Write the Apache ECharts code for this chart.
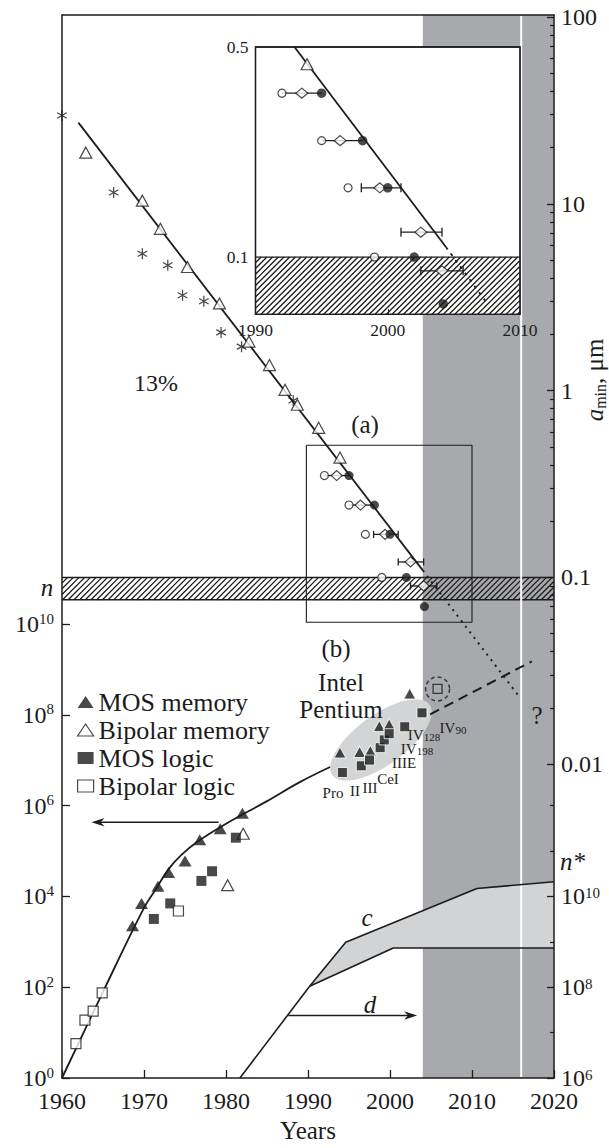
<!DOCTYPE html>
<html>
<head>
<meta charset="utf-8">
<title>Transistor count and minimum feature size</title>
<script src="https://cdn.jsdelivr.net/npm/echarts@6.0.0/dist/echarts.min.js"></script>
<style>
html,body{margin:0;padding:0;background:#fff;}
#chart{width:609px;height:1148px;}
</style>
</head>
<body>
<div id="chart"></div>
<script>
// ---------- Minimum feature size a_min (μm) ----------
const asteriskPts = [[1960,29.7],[1966.3,11.5],[1969.8,5.4],[1972.9,4.69],[1974.7,3.24],[1977.3,3.01],[1979.4,2.05],[1981.9,1.72],[1988.2,0.885]];
const openTriTop = [[1962.9,18.8],[1969.8,10.4],[1972.0,7.35],[1975.3,4.59],[1979.2,2.93],[1982.8,1.83],[1985.3,1.37],[1987.2,1.01],[1988.7,0.84],[1991.3,0.632],[1993.9,0.438]];
const openCircles = [[1992.0,0.351],[1995.0,0.244],[1997.0,0.170],[1999.0,0.100]];
const diamonds = [[1993.5,0.351],[1996.4,0.244],[1999.4,0.170],[2002.5,0.121],[2004.1,0.090]];
const filledCircles = [[1995.0,0.351],[1998.1,0.244],[2000.0,0.170],[2002.0,0.100],[2004.2,0.0698]];
// [a_min, first year, last year]
const diamondRanges = [[0.170,1998.0,2001.0],[0.121,2001.0,2004.1],[0.090,2002.5,2005.7]];
const rowLinks = [[0.351,1992.0,1995.0],[0.244,1995.0,1998.1]];
const trendSolid = [[1962,27.2],[2004,0.109]];
const trendDotted = [[2004,0.109],[2015.6,0.0235]];
const insetSolid = [[1992.95,0.5],[2004.4,0.108]];
const insetDotted = [[2004.4,0.108],[2007.5,0.0703]];
const limitBand = [0.076, 0.1];          // shaded "n" band, μm
const frameB = [[1989.8,0.51],[2010,0.51],[2010,0.0575],[1989.8,0.0575],[1989.8,0.51]];

// ---------- Transistors per chip ----------
const mosMemory = [[1968.6,2270],[1969.7,7030],[1971.7,16800],[1973.0,33700],[1975.0,60400],[1976.8,178000],[1979.3,310000],[1982.0,681000]];
const bipolarMemory = [[1980.2,17700],[1982.1,240000]];
const mosLogic = [[1971.2,3190],[1973.2,7030],[1977.0,22000],[1978.3,35900],[1981.2,197000]];
const bipolarLogic = [[1961.7,5.7],[1962.8,18.8],[1963.8,29.6],[1964.9,75],[1974.2,4780]];
const pentiumMemory = [[1993.9,1.48e7],[1996.3,1.53e7],[1997.6,1.61e7],[1998.7,5.69e7],[1999.9,6.19e7],[2002.4,2.96e8]];
const pentiumLogic = [[1994.2,5.38e6],[1996.5,7.55e6],[1997.5,1.01e7],[1998.8,1.90e7],[1999.3,2.81e7],[1999.9,3.85e7],[2001.8,5.48e7],[2003.9,1.11e8]];
const pentiumNext = [[2005.8,3.73e8]];
const countTrend = [[1960,1],[1965,79],[1970,5600],[1971.5,15000],[1973,40000],[1974.5,80000],[1976.5,160000],[1980,400000],[1985,1.26e6],[1989,3.3e6],[1992.7,7.1e6]];
const countProjection = [[2004.9,1.03e8],[2017.3,1.51e9]];
const pentiumCloudCenter = [1998.9, 2.8e7];
const leftArrow = [[1979.1,4.3e5],[1963.6,4.3e5]];

// ---------- n* (right lower scale) ----------
const nRise = [[1981.7,1e6],[1990.2,1.05e8]];
const nUpper = [[1990.2,1.05e8],[1994.6,9.8e8],[2010.6,1.5e10],[2020,2.1e10]];
const nLower = [[1990.2,1.05e8],[2000.4,7.3e8],[2020,7.3e8]];
const arrowD = [[1987.6,2.38e7],[2003.3,2.38e7]];

const shadedYears = [2004, 2020];
const markerYear = 2016;

// ---------- tick labels ----------
const countTicks = [1e0,1e2,1e4,1e6,1e8,1e10];
const aMinTicks = [100,10,1,0.1,0.01];
const nStarTicks = [1e6,1e8,1e10];
const nStarMinor = [1e7,1e9,1e11,1e12];
const insetTicks = [0.5,0.1];
const insetRange = [0.0645,0.5];

// ---------- helpers ----------
const INK = '#1c1c1c';
const FONT = 'Liberation Serif';
const L10 = Math.log10;
const lg = arr => arr.map(p => [p[0], L10(p[1])]);
const yearLabel = v => String(Math.round(v));

const aMinMinor = [];
for (let e = -2; e <= 1; e++) for (let k = 2; k <= 9; k++) aMinMinor.push(L10(k * Math.pow(10, e)));

function asteriskPath() {
  const L = 10, w = 1.15;
  let d = '';
  [90, 30, 150].forEach(deg => {
    const a = deg * Math.PI / 180, ux = Math.cos(a), uy = Math.sin(a), nx = -uy * w, ny = ux * w;
    const p = [[-L*ux+nx, -L*uy+ny],[L*ux+nx, L*uy+ny],[L*ux-nx, L*uy-ny],[-L*ux-nx, -L*uy-ny]];
    d += 'M' + p.map(q => (q[0]+10).toFixed(3) + ',' + (q[1]+10).toFixed(3)).join('L') + 'Z';
  });
  return 'path://' + d;
}

function hatchLines(x0, y0, x1, y1, step) {
  const kids = [];
  for (let c = x0 + y0; c <= x1 + y1 + step; c += step) {
    const xa = Math.max(x0, c - y1), xb = Math.min(x1, c - y0);
    if (xb <= xa) continue;
    kids.push({type:'line', shape:{x1:xa, y1:c-xa, x2:xb, y2:c-xb}, style:{stroke:INK, lineWidth:1.3}});
  }
  return kids;
}

function arrowShape(a, b) {
  const dx = b[0]-a[0], dy = b[1]-a[1], len = Math.hypot(dx, dy), ux = dx/len, uy = dy/len;
  const hl = 13, hw = 4.2, notch = 9;
  const bx = b[0]-ux*hl, by = b[1]-uy*hl;
  return {type:'group', children:[
    {type:'line', shape:{x1:a[0], y1:a[1], x2:b[0]-ux*notch, y2:b[1]-uy*notch}, style:{stroke:INK, lineWidth:1.5}},
    {type:'polygon', shape:{points:[[b[0],b[1]],[bx-uy*hw, by+ux*hw],[b[0]-ux*notch, b[1]-uy*notch],[bx+uy*hw, by-ux*hw]]}, style:{fill:INK}}
  ]};
}

function rangeSeries(rows, xi, yi, z, cap) {
  return {type:'custom', xAxisIndex:xi, yAxisIndex:yi, z, silent:true, clip:true,
    data: rows.map(r => [r[1], r[2], L10(r[0])]), encode:{x:[0,1], y:2},
    renderItem(params, api) {
      const y = api.value(2);
      const a = api.coord([api.value(0), y]), b = api.coord([api.value(1), y]);
      const st = {stroke:INK, lineWidth:1.3};
      const kids = [{type:'line', shape:{x1:a[0], y1:a[1], x2:b[0], y2:b[1]}, style:st}];
      if (cap > 0) {
        kids.push({type:'line', shape:{x1:a[0], y1:a[1]-cap, x2:a[0], y2:a[1]+cap}, style:st});
        kids.push({type:'line', shape:{x1:b[0], y1:b[1]-cap, x2:b[0], y2:b[1]+cap}, style:st});
      }
      return {type:'group', children:kids};
    }};
}

function lineSeries(data, xi, yi, z, style, smooth) {
  return {type:'line', xAxisIndex:xi, yAxisIndex:yi, z, silent:true, data:lg(data), symbol:'none',
    smooth: smooth || false, lineStyle: Object.assign({color:INK, width:1.8}, style)};
}

function scatter(name, data, xi, yi, z, symbol, size, itemStyle) {
  return {type:'scatter', name, xAxisIndex:xi, yAxisIndex:yi, z, silent:true, data:lg(data),
    symbol, symbolSize:size, symbolKeepAspect:true, itemStyle};
}

const solid = {color:INK};
const hollow = {color:'#fff', borderColor:INK, borderWidth:1.2};

function txt(x, y, text, opt) {
  return {type:'text', x, y, z:100, silent:true,
    style: Object.assign({text, fill:INK, fontFamily:FONT, fontSize:25, align:'center', verticalAlign:'middle'}, opt || {})};
}
const subRich = {s:{fontSize:11, fontFamily:FONT, fill:INK, verticalAlign:'bottom', lineHeight:10}};
function subTxt(x, y, text) {
  return txt(x, y, text, {fontSize:15, lineHeight:14, rich:subRich});
}

const aLabel = v => { const t = aMinTicks.find(t => Math.abs(L10(t) - v) < 1e-6); return t === undefined ? '' : String(t); };
const powLabel = v => '10{s|' + Math.round(v) + '}';
const supRich = {s:{fontSize:15, fontFamily:FONT, color:INK, verticalAlign:'top', lineHeight:15}};
const axisLineStyle = {color:INK, width:1.5};

const option = {
  animation: false,
  backgroundColor: '#fff',
  textStyle: {fontFamily: FONT},
  grid: [
    {left:62, top:15, width:492, height:1069},
    {left:255.5, top:47, width:264.5, height:267.3}
  ],
  legend: {
    orient:'vertical', left:72, top:684, itemWidth:16, itemHeight:12, itemGap:2, selectedMode:false,
    textStyle:{fontFamily:FONT, fontSize:26, lineHeight:26, color:INK},
    data:[
      {name:'MOS memory', icon:'triangle', itemStyle:{color:INK}},
      {name:'Bipolar memory', icon:'triangle', itemStyle:{color:'#fff', borderColor:INK, borderWidth:1.2}},
      {name:'MOS logic', icon:'rect', itemStyle:{color:INK}},
      {name:'Bipolar logic', icon:'rect', itemStyle:{color:'#fff', borderColor:INK, borderWidth:1.2}}
    ]
  },
  xAxis: [
    {gridIndex:0, type:'value', min:1960, max:2020, interval:10, position:'bottom', z:10,
      axisLine:{onZero:false, lineStyle:axisLineStyle}, axisTick:{inside:true, length:8, lineStyle:{color:INK, width:1.3}},
      axisLabel:{fontFamily:FONT, fontSize:24, color:INK, margin:11, formatter:yearLabel}, splitLine:{show:false},
      name:'Years', nameLocation:'middle', nameGap:40, nameTextStyle:{fontFamily:FONT, fontSize:25, color:INK}},
    {gridIndex:0, type:'value', min:1960, max:2020, position:'top', z:10,
      axisLine:{onZero:false, lineStyle:axisLineStyle}, axisTick:{show:false}, axisLabel:{show:false}, splitLine:{show:false}},
    {gridIndex:1, type:'value', min:1990, max:2010, interval:10, position:'bottom', z:20,
      axisLine:{show:false, onZero:false}, axisTick:{inside:true, length:5, customValues:[2000], lineStyle:{color:INK}},
      axisLabel:{fontFamily:FONT, fontSize:17.5, color:INK, margin:7, formatter:yearLabel}, splitLine:{show:false}}
  ],
  yAxis: [
    // 0: transistors per chip (log10)
    {gridIndex:0, type:'value', min:0, max:23.42, position:'left', z:10,
      axisLine:{show:true, onZero:false, lineStyle:axisLineStyle},
      axisTick:{inside:true, length:8, customValues:countTicks.map(L10), lineStyle:{color:INK, width:1.3}},
      axisLabel:{customValues:countTicks.map(L10), formatter:powLabel, fontFamily:FONT, fontSize:24, lineHeight:26, color:INK, margin:8, rich:supRich},
      splitLine:{show:false}},
    // 1: a_min, μm (log10)
    {gridIndex:0, type:'value', min:-3.68, max:2.011, position:'right', z:10,
      axisLine:{show:true, onZero:false, lineStyle:axisLineStyle},
      axisTick:{inside:true, length:7, customValues:aMinTicks.map(L10), lineStyle:{color:INK, width:1.3}},
      axisLabel:{customValues:aMinTicks.map(L10), formatter:aLabel, fontFamily:FONT, fontSize:24, color:INK, margin:7},
      splitLine:{show:false}},
    // 2: a_min minor ticks
    {gridIndex:0, type:'value', min:-3.68, max:2.011, position:'right', z:10,
      axisLine:{show:false, onZero:false}, axisTick:{inside:true, length:4, customValues:aMinMinor, lineStyle:{color:INK, width:1.2}},
      axisLabel:{show:false}, splitLine:{show:false}},
    // 3: n* (log10)
    {gridIndex:0, type:'value', min:6, max:29.42, position:'right', z:10,
      axisLine:{show:false, onZero:false},
      axisTick:{inside:true, length:7, customValues:nStarTicks.map(L10), lineStyle:{color:INK, width:1.3}},
      axisLabel:{customValues:nStarTicks.map(L10), formatter:powLabel, fontFamily:FONT, fontSize:24, lineHeight:22, color:INK, margin:7, rich:supRich},
      splitLine:{show:false}},
    // 4: n* minor ticks
    {gridIndex:0, type:'value', min:6, max:29.42, position:'right', z:10,
      axisLine:{show:false, onZero:false}, axisTick:{inside:true, length:4, customValues:nStarMinor.map(L10), lineStyle:{color:INK, width:1.2}},
      axisLabel:{show:false}, splitLine:{show:false}},
    // 5: inset a_min
    {gridIndex:1, type:'value', min:L10(insetRange[0]), max:L10(insetRange[1]), position:'left', z:20,
      axisLine:{show:false, onZero:false}, axisTick:{show:false},
      axisLabel:{customValues:insetTicks.map(L10), formatter:v => { const t = insetTicks.find(t => Math.abs(L10(t)-v) < 1e-6); return t === undefined ? '' : String(t); },
        fontFamily:FONT, fontSize:17.5, color:INK, margin:7},
      splitLine:{show:false}}
  ],
  series: [
    // shaded period
    {type:'custom', xAxisIndex:0, yAxisIndex:0, z:1, silent:true, data:[shadedYears], encode:{x:[0,1]},
      renderItem(params, api) {
        const cs = params.coordSys;
        const x0 = api.coord([api.value(0), 0])[0], x1 = api.coord([api.value(1), 0])[0];
        return {type:'rect', shape:{x:x0, y:cs.y, width:x1-x0, height:cs.height}, style:{fill:'#a8a9ac'}};
      }},
    // Pentium cloud
    {type:'custom', xAxisIndex:0, yAxisIndex:0, z:2, silent:true, data:[[pentiumCloudCenter[0], L10(pentiumCloudCenter[1])]],
      renderItem(params, api) {
        const c = api.coord([api.value(0), api.value(1)]);
        const a = 60, b = 25, th = 36 * Math.PI / 180, pts = [];
        for (let i = 0; i < 90; i++) {
          const t = i / 90 * 2 * Math.PI, ex = a * Math.cos(t), ey = b * Math.sin(t);
          pts.push([c[0] + ex*Math.cos(th) + ey*Math.sin(th), c[1] - ex*Math.sin(th) + ey*Math.cos(th)]);
        }
        return {type:'polygon', shape:{points:pts}, style:{fill:'#d3d4d6'}};
      }},
    // n* band fill
    {type:'custom', xAxisIndex:0, yAxisIndex:3, z:2, silent:true, data:[[0,0]],
      renderItem(params, api) {
        const pts = lg(nUpper).map(p => api.coord(p)).concat(lg(nLower).slice(1).reverse().map(p => api.coord(p)));
        return {type:'polygon', shape:{points:pts}, style:{fill:'#d2d3d5'}};
      }},
    // limiting size band (hatched)
    {type:'custom', xAxisIndex:0, yAxisIndex:1, z:3, silent:true, data:[[L10(limitBand[0]), L10(limitBand[1])]], encode:{y:[0,1]},
      renderItem(params, api) {
        const cs = params.coordSys;
        const yb = api.coord([1960, api.value(0)])[1], yt = api.coord([1960, api.value(1)])[1];
        const x0 = cs.x, x1 = cs.x + cs.width;
        const kids = hatchLines(x0, yt, x1, yb, 5.7);
        kids.push({type:'line', shape:{x1:x0, y1:yt, x2:x1, y2:yt}, style:{stroke:INK, lineWidth:1.5}});
        kids.push({type:'line', shape:{x1:x0, y1:yb, x2:x1, y2:yb}, style:{stroke:INK, lineWidth:1.5}});
        return {type:'group', children:kids};
      }},
    // marker year
    {type:'custom', xAxisIndex:0, yAxisIndex:0, z:4, silent:true, data:[[markerYear, 0]],
      renderItem(params, api) {
        const cs = params.coordSys, x = api.coord([api.value(0), 0])[0];
        return {type:'line', shape:{x1:x, y1:cs.y + 1, x2:x, y2:cs.y + cs.height - 1}, style:{stroke:'#fff', lineWidth:2}};
      }},
    // n* outlines
    lineSeries(nRise, 0, 3, 5, {width:1.6}),
    lineSeries(nUpper, 0, 3, 5, {width:1.6}),
    lineSeries(nLower, 0, 3, 5, {width:1.6}),
    // arrows
    {type:'custom', xAxisIndex:0, yAxisIndex:0, z:5, silent:true,
      data:[[leftArrow[0][0], L10(leftArrow[0][1]), leftArrow[1][0], L10(leftArrow[1][1])]], encode:{x:[0,2], y:[1,3]},
      renderItem(params, api) { return arrowShape(api.coord([api.value(0), api.value(1)]), api.coord([api.value(2), api.value(3)])); }},
    {type:'custom', xAxisIndex:0, yAxisIndex:3, z:5, silent:true,
      data:[[arrowD[0][0], L10(arrowD[0][1]), arrowD[1][0], L10(arrowD[1][1])]], encode:{x:[0,2], y:[1,3]},
      renderItem(params, api) { return arrowShape(api.coord([api.value(0), api.value(1)]), api.coord([api.value(2), api.value(3)])); }},
    // transistor count trend and projection
    lineSeries(countTrend, 0, 0, 5, {width:1.8}, 0.4),
    lineSeries(countProjection, 0, 0, 5, {width:2, type:[10,6]}),
    // a_min trend
    lineSeries(trendSolid, 0, 1, 5, {width:1.8}),
    lineSeries(trendDotted, 0, 1, 5, {width:2, type:[2,5]}),
    lineSeries(frameB, 0, 1, 5, {width:1.1}),
    rangeSeries(rowLinks, 0, 1, 5, 0),
    rangeSeries(diamondRanges, 0, 1, 5, 3.5),
    // a_min markers
    scatter('asterisk', asteriskPts, 0, 1, 6, asteriskPath(), 11, solid),
    scatter('Bipolar memory', openTriTop, 0, 1, 6, 'triangle', [12,11], hollow),
    scatter('circle', openCircles, 0, 1, 6, 'circle', 8, hollow),
    scatter('diamond', diamonds, 0, 1, 6, 'diamond', [11,10], hollow),
    scatter('dot', filledCircles, 0, 1, 6, 'circle', 9, solid),
    // transistor markers
    scatter('MOS memory', mosMemory, 0, 0, 6, 'triangle', [13,11], solid),
    scatter('Bipolar memory', bipolarMemory, 0, 0, 6, 'triangle', [12,11], hollow),
    scatter('MOS logic', mosLogic, 0, 0, 6, 'rect', 10, solid),
    scatter('Bipolar logic', bipolarLogic, 0, 0, 6, 'rect', 10, hollow),
    scatter('MOS memory', pentiumMemory, 0, 0, 6, 'triangle', [12,11], {color:INK, borderColor:'#fff', borderWidth:1}),
    scatter('MOS logic', pentiumLogic, 0, 0, 6, 'rect', 10, {color:INK, borderColor:'#fff', borderWidth:1}),
    scatter('next', pentiumNext, 0, 0, 6, 'rect', 9, {color:'transparent', borderColor:INK, borderWidth:1.3}),
    scatter('ring', pentiumNext, 0, 0, 6, 'circle', 24, {color:'transparent', borderColor:INK, borderWidth:1.5, borderType:[4,3]}),
    // ---- inset ----
    {type:'custom', xAxisIndex:2, yAxisIndex:5, z:10, silent:true, data:[[0,0]],
      renderItem(params) {
        const cs = params.coordSys;
        return {type:'rect', shape:{x:cs.x, y:cs.y, width:cs.width, height:cs.height}, style:{fill:'#fff', stroke:INK, lineWidth:1.3}};
      }},
    {type:'custom', xAxisIndex:2, yAxisIndex:5, z:11, silent:true, data:[[L10(limitBand[1])]], encode:{y:0},
      renderItem(params, api) {
        const cs = params.coordSys;
        const yt = api.coord([1990, api.value(0)])[1], yb = cs.y + cs.height;
        const kids = hatchLines(cs.x, yt, cs.x + cs.width, yb, 5.7);
        kids.push({type:'line', shape:{x1:cs.x, y1:yt, x2:cs.x + cs.width, y2:yt}, style:{stroke:INK, lineWidth:1.3}});
        kids.push({type:'rect', shape:{x:cs.x, y:cs.y, width:cs.width, height:cs.height}, style:{fill:null, stroke:INK, lineWidth:1.3}});
        return {type:'group', children:kids};
      }},
    lineSeries(insetSolid, 2, 5, 12, {width:1.8}),
    lineSeries(insetDotted, 2, 5, 12, {width:1.8, type:[3,5]}),
    rangeSeries(rowLinks, 2, 5, 12, 0),
    rangeSeries(diamondRanges, 2, 5, 12, 4.5),
    scatter('tri-inset', openTriTop, 2, 5, 13, 'triangle', [12,11], hollow),
    scatter('circle-inset', openCircles, 2, 5, 13, 'circle', 8, hollow),
    scatter('diamond-inset', diamonds, 2, 5, 13, 'diamond', [12,10], hollow),
    scatter('dot-inset', filledCircles, 2, 5, 13, 'circle', 9.5, solid)
  ],
  graphic: {elements: [
    txt(156, 383, '13%', {fontSize:24}),
    txt(365, 424, '(a)'),
    txt(336, 648, '(b)'),
    txt(341, 682, 'Intel'),
    txt(341, 709, 'Pentium'),
    txt(47, 587, 'n', {fontStyle:'italic'}),
    txt(560, 861, 'n*', {fontStyle:'italic', align:'left'}),
    txt(367, 917, 'c', {fontStyle:'italic'}),
    txt(370, 1004, 'd', {fontStyle:'italic'}),
    txt(537, 715, '?'),
    subTxt(333, 793, 'Pro'),
    subTxt(355, 791, 'II'),
    subTxt(370, 788, 'III'),
    subTxt(388, 779, 'CeI'),
    subTxt(404, 763, 'IIIE'),
    subTxt(417, 749, 'IV{s|198}'),
    subTxt(424, 735, 'IV{s|128}'),
    subTxt(453, 728, 'IV{s|90}'),
    {type:'text', x:594, y:380, rotation:Math.PI/2, z:100, silent:true,
      style:{text:'{it|a}{sub|min}, μm', fill:INK, fontFamily:FONT, fontSize:25, lineHeight:28, align:'center', verticalAlign:'middle',
        rich:{it:{fontStyle:'italic', fontFamily:FONT, fontSize:25, fill:INK}, sub:{fontSize:16, fontFamily:FONT, fill:INK, verticalAlign:'bottom', lineHeight:16}}}}
  ]}
};

const chart = echarts.init(document.getElementById('chart'), null, {renderer:'svg'});
chart.setOption(option);
</script>
</body>
</html>
